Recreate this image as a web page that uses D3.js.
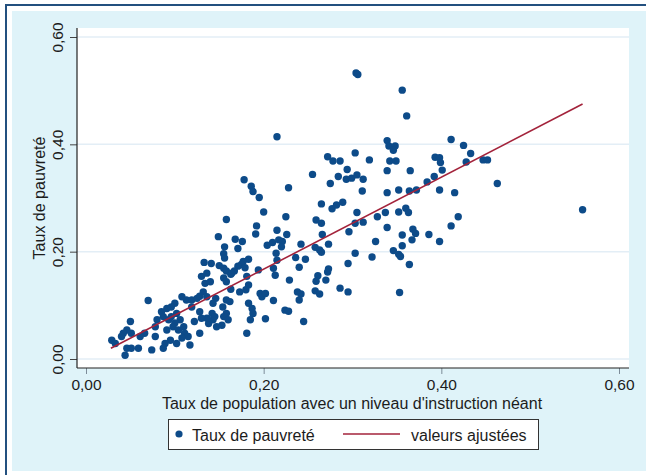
<!DOCTYPE html>
<html><head><meta charset="utf-8">
<script src="https://cdn.jsdelivr.net/npm/d3@7"></script>
<style>
body{margin:0;background:#fff}
svg{display:block}
text{font-family:"Liberation Sans",Arial,sans-serif;fill:#1c1c1c}
</style>
</head><body>
<svg id="c" width="646" height="475"></svg>
<script>
// ---- data ----
const xVals = [
 .304,.306,.356,.361,.339,.341,.348,.346,.411,.425,.433,.303,.319,.272,.278,.286,.342,.349,.393,.398,
 .399,.401,.428,.447,.452,.294,.339,.365,.255,.284,.293,.299,.305,.312,.275,.228,.384,.392,.463,.311,
 .339,.352,.364,.372,.398,.415,.265,.277,.282,.289,.225,.259,.265,.305,.303,.312,.328,.337,.352,.360,
 .363,.419,.411,.296,.339,.266,.226,.221,.242,.258,.263,.265,.273,.326,.356,.368,.371,.367,.386,.398,
 .356,.303,.322,.346,.352,.354,.364,.295,.236,.247,.240,.273,.272,.261,.259,.270,.229,.258,.263,.286,
 .295,.238,.242,.240,.353,.224,.228,.245,.559,
 .215,.178,.186,.188,.195,.200,.158,.192,.191,.215,.149,.168,.171,.176,.156,.155,.156,.204,.210,.217,
 .220,.214,.215,.183,.177,.175,.171,.167,.163,.179,.133,.141,.150,.155,.158,.194,.211,.213,.130,.136,
 .155,.158,.164,.181,.183,.134,.132,.140,.163,.173,.180,.146,.143,.158,.162,.196,.198,.202,.183,.187,
 .188,.211,.202,.185,.181,.154,.158,.155,.160,.142,.143,.147,.153,.138,.145,.136,.128,.130,.122,.128,
 .113,.119,.125,.119,.108,.100,.136,.128,.070,.085,.091,.096,.087,.093,.096,.102,.106,.100,.080,.078,
 .091,.098,.104,.110,.111,.115,.108,.117,.095,.089,.087,.102,.066,.061,.078,.050,.046,.051,.042,.040,
 .029,.033,.046,.051,.059,.044,.074
];
const yVals = [
 .533,.530,.501,.453,.407,.397,.397,.389,.409,.398,.383,.384,.371,.377,.369,.369,.369,.369,.376,.375,
 .366,.352,.367,.371,.371,.353,.351,.351,.344,.340,.335,.337,.343,.335,.327,.319,.330,.340,.327,.313,
 .310,.315,.313,.315,.315,.310,.289,.280,.287,.292,.265,.259,.253,.273,.253,.255,.265,.273,.274,.281,
 .273,.265,.248,.237,.245,.232,.232,.219,.214,.208,.203,.199,.214,.219,.231,.242,.234,.222,.232,.219,
 .211,.197,.190,.202,.195,.191,.176,.178,.189,.186,.171,.168,.162,.155,.145,.147,.147,.127,.121,.132,
 .125,.125,.121,.110,.124,.091,.089,.070,.278,
 .414,.334,.322,.312,.301,.274,.260,.248,.233,.240,.228,.223,.206,.219,.209,.196,.188,.212,.217,.222,
 .209,.197,.184,.186,.182,.176,.173,.164,.158,.170,.180,.178,.174,.169,.164,.166,.169,.156,.154,.160,
 .151,.144,.160,.154,.138,.141,.125,.144,.130,.125,.129,.113,.104,.110,.107,.122,.116,.122,.104,.094,
 .085,.109,.075,.073,.048,.097,.085,.079,.073,.085,.073,.060,.063,.066,.079,.076,.088,.076,.070,.048,
 .110,.110,.113,.097,.116,.104,.116,.117,.109,.088,.094,.097,.079,.073,.079,.085,.073,.067,.073,.060,
 .054,.060,.054,.060,.048,.042,.039,.026,.035,.029,.020,.029,.048,.042,.042,.070,.054,.048,.048,.042,
 .035,.029,.020,.020,.020,.007,.017
];
const fitX = [0.028, 0.559];
const fitY = [0.020, 0.475];
const xTicks = [0, 0.2, 0.4, 0.6];
const xTickLabels = ["0,00", "0,20", "0,40", "0,60"];
const yTicks = [0, 0.2, 0.4, 0.6];
const yTickLabels = ["0,00", "0,20", "0,40", "0,60"];
const xTitle = "Taux de population avec un niveau d'instruction néant";
const yTitle = "Taux de pauvreté";
const legendLabels = ["Taux de pauvreté", "valeurs ajustées"];

// ---- layout ----
const plot = {left: 77, top: 28, right: 629, bottom: 368};
const x = d3.scaleLinear().domain([0, 0.6]).range([86, 619]);
const y = d3.scaleLinear().domain([0, 0.6]).range([359, 37]);
const dotColor = "#0d4b89", lineColor = "#a3233b";

const svg = d3.select("#c");
svg.append("rect").attr("x", 6).attr("y", 5).attr("width", 660).attr("height", 480)
  .attr("fill", "#fff").attr("stroke", "#23507f").attr("stroke-width", 2);
svg.append("rect").attr("x", 12).attr("y", 11).attr("width", 640).attr("height", 460)
  .attr("fill", "#dff3f9");
svg.append("rect").attr("x", plot.left).attr("y", plot.top)
  .attr("width", plot.right - plot.left).attr("height", plot.bottom - plot.top).attr("fill", "#fff");

// gridlines
svg.append("g").selectAll("line").data(yTicks).join("line")
  .attr("x1", plot.left).attr("x2", plot.right)
  .attr("y1", d => y(d)).attr("y2", d => y(d))
  .attr("stroke", "#e3eef6").attr("stroke-width", 1.5);

// points
const pts = xVals.map((v, i) => ({x: v, y: yVals[i]}));
svg.append("g").selectAll("circle").data(pts).join("circle")
  .attr("cx", d => x(d.x)).attr("cy", d => y(d.y)).attr("r", 3.7)
  .attr("fill", dotColor);

// fitted line
const fit = fitX.map((v, i) => [v, fitY[i]]);
svg.append("path").datum(fit)
  .attr("d", d3.line().x(d => x(d[0])).y(d => y(d[1])))
  .attr("fill", "none").attr("stroke", lineColor).attr("stroke-width", 1.6);

// axes
const yAxis = svg.append("g").attr("transform", `translate(${plot.left},0)`)
  .call(d3.axisLeft(y).tickValues(yTicks).tickFormat((d, i) => yTickLabels[i]).tickSize(7));
yAxis.select(".domain").remove();
yAxis.selectAll(".tick line").attr("stroke", "#444");
yAxis.selectAll(".tick text").attr("x", null).attr("dy", null)
  .attr("text-anchor", "middle").attr("transform", "translate(-14,0) rotate(-90)")
  .style("font-size", "15.5px").style("font-family", "'Liberation Sans',Arial,sans-serif").attr("fill", "#1c1c1c");

const xAxis = svg.append("g").attr("transform", `translate(0,${plot.bottom})`)
  .call(d3.axisBottom(x).tickValues(xTicks).tickFormat((d, i) => xTickLabels[i]).tickSize(6));
xAxis.select(".domain").remove();
xAxis.selectAll(".tick line").attr("stroke", "#7d8c99");
xAxis.selectAll(".tick text").attr("y", 22).attr("dy", null)
  .style("font-size", "15.5px").style("font-family", "'Liberation Sans',Arial,sans-serif").attr("fill", "#1c1c1c");

svg.append("line").attr("x1", plot.left).attr("x2", plot.left).attr("y1", plot.top).attr("y2", plot.bottom)
  .attr("stroke", "#222").attr("stroke-width", 1.2);
svg.append("line").attr("x1", plot.left).attr("x2", plot.right).attr("y1", plot.bottom).attr("y2", plot.bottom)
  .attr("stroke", "#222").attr("stroke-width", 1.2);

// titles
svg.append("text").attr("x", 352).attr("y", 409).attr("text-anchor", "middle")
  .style("font-size", "16px").text(xTitle);
svg.append("text").attr("transform", "translate(45,198) rotate(-90)").attr("text-anchor", "middle")
  .style("font-size", "16px").text(yTitle);

// legend
const lg = svg.append("g");
lg.append("rect").attr("x", 168.5).attr("y", 419.5).attr("width", 370).attr("height", 30)
  .attr("fill", "#fff").attr("stroke", "#333").attr("stroke-width", 1);
lg.append("circle").attr("cx", 179).attr("cy", 434).attr("r", 3.6).attr("fill", dotColor);
lg.append("text").attr("x", 192).attr("y", 441).style("font-size", "16px").text(legendLabels[0]);
lg.append("line").attr("x1", 343).attr("x2", 400).attr("y1", 434).attr("y2", 434)
  .attr("stroke", lineColor).attr("stroke-width", 1.6);
lg.append("text").attr("x", 411).attr("y", 441).style("font-size", "16px").text(legendLabels[1]);
</script>
</body></html>
